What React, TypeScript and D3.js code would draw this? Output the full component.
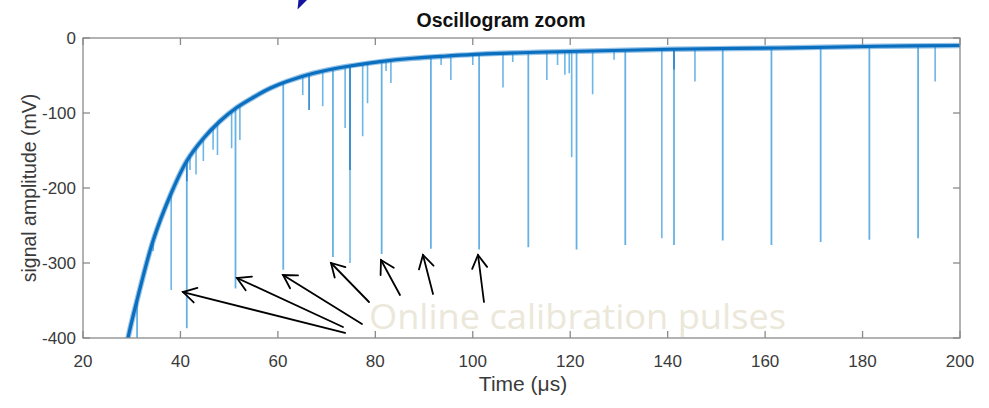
import React from "react";
import * as d3 from "d3";

// Baseline of the oscillogram (time in µs, amplitude in mV)
const curveT = [28.6, 29.3, 31, 34.4, 37.9, 41.3, 44.7, 48.1, 51.5, 55, 58.4, 61.8, 67.3, 74.1, 81, 87.8, 94.7, 101.5, 113.1, 126.8, 140.5, 163, 183.6, 200];
const curveV = [-422, -398, -352, -270, -210, -164, -134, -111, -93, -79, -67, -58, -47, -38, -31.5, -27, -24, -21.5, -19, -17, -15, -13.3, -11, -10];

// Online calibration pulses: time and peak amplitude
const pulseT = [31.1, 41.3, 51.3, 61.1, 71.3, 81.3, 91.4, 101.3, 111.4, 121.3, 131.3, 141.3, 151.3, 161.3, 171.4, 181.4, 191.4];
const pulseV = [-400, -387, -334, -309, -292, -288, -281, -282, -279, -282, -276, -276, -270, -276, -272, -269, -267];

// Other detected events: time and peak amplitude
const eventT = [34.4, 38.1, 41.96, 43.2, 44.7, 46.7, 47.6, 50.5, 52.2, 65.1, 69.2, 73.8, 74.8, 77.4, 78.4, 82.2, 83.2, 93.5, 95.5, 100, 106.2, 108.2, 115.2, 117.4, 118.9, 119.8, 120.3, 124.6, 129, 138.8, 145.6, 194.9];
const eventV = [-284, -336, -176, -182, -164, -149, -156, -147, -136, -76, -91, -120, -300, -131, -87, -44, -60, -36, -56, -36, -66, -32, -56, -36, -49, -47, -159, -75, -29, -267, -58, -58];

// Strong short events
const strongT = [41.3, 66.4, 74.8, 141.3];
const strongV = [-191, -96, -176, -42];

// Annotation arrows: tail and tip in data units
const arrowTailT = [73.78, 73.36, 77.26, 78.7, 85.06, 91.84, 102.3];
const arrowTailV = [-393.3, -385.3, -381.3, -352, -342.7, -341.3, -352];
const arrowTipT = [40.52, 51.61, 61.05, 70.9, 81.16, 89.78, 101.07];
const arrowTipV = [-338.7, -320, -316, -300, -296, -289.3, -289.3];

const xTicks = [20, 40, 60, 80, 100, 120, 140, 160, 180, 200];
const yTicks = [0, -100, -200, -300, -400];

const W = 989;
const H = 408;
const left = 83;
const right = 960;
const top = 38;
const bottom = 338;

export default function App() {
  const x = d3.scaleLinear().domain([20, 200]).range([left, right]);
  const y = d3.scaleLinear().domain([-400, 0]).range([bottom, top]);
  const baseline = d3.scaleLinear().domain(curveT).range(curveV);

  const pts: [number, number][] = curveT.map((t, i) => [t, curveV[i]]);
  const line = d3
    .line<[number, number]>()
    .x((d) => x(d[0]))
    .y((d) => y(d[1]))
    .curve(d3.curveCatmullRom.alpha(0.5));
  const path = line(pts) || "";

  const tickLen = 7;
  const axisColor = "#8a8a8a";
  const textColor = "#3a3a3a";
  const font = "Arial, 'Liberation Sans', sans-serif";

  const spike = (t: number, v: number, key: string, color: string, w: number) => (
    <line key={key} x1={x(t)} x2={x(t)} y1={y(baseline(t))} y2={y(v)} stroke={color} strokeWidth={w} />
  );

  const arrows = arrowTipT.map((t, i) => {
    const x1 = x(arrowTailT[i]);
    const y1 = y(arrowTailV[i]);
    const x2 = x(t);
    const y2 = y(arrowTipV[i]);
    const ang = Math.atan2(y1 - y2, x1 - x2);
    const len = 15;
    const spread = (30 * Math.PI) / 180;
    const a1x = x2 + len * Math.cos(ang + spread);
    const a1y = y2 + len * Math.sin(ang + spread);
    const a2x = x2 + len * Math.cos(ang - spread);
    const a2y = y2 + len * Math.sin(ang - spread);
    return (
      <g key={"arrow" + i} stroke="#000" strokeWidth={1.8} fill="none" strokeLinecap="round">
        <line x1={x1} y1={y1} x2={x2} y2={y2} />
        <polyline points={`${a1x},${a1y} ${x2},${y2} ${a2x},${a2y}`} />
      </g>
    );
  });

  return (
    <svg
      width={W}
      height={H}
      style={{ position: "absolute", left: 0, top: 0, background: "#fff" }}
      fontFamily={font}
    >
      <defs>
        <clipPath id="plotClip">
          <rect x={left} y={top} width={right - left} height={bottom - top} />
        </clipPath>
      </defs>

      {/* arrow head fragment from a neighbouring panel */}
      <polygon points="297.5,9.5 298.5,0 307,0" fill="#1414a0" />

      <text x={501} y={26.5} textAnchor="middle" fontSize={19.5} fontWeight="bold" fill="#111">
        Oscillogram zoom
      </text>

      <g clipPath="url(#plotClip)">
        {eventT.map((t, i) => spike(t, eventV[i], "e" + i, "#6db6e8", 1.6))}
        {pulseT.map((t, i) => spike(t, pulseV[i], "p" + i, "#66b1e4", 1.8))}
        {strongT.map((t, i) => spike(t, strongV[i], "s" + i, "#2a84cc", 1.6))}
        <path d={path} fill="none" stroke="#2b86d0" strokeOpacity={0.5} strokeWidth={5.5} />
        <path d={path} fill="none" stroke="#0b6fc0" strokeWidth={3.2} />
      </g>

      {/* axes box */}
      <rect x={left} y={top} width={right - left} height={bottom - top} fill="none" stroke={axisColor} strokeWidth={1.3} />
      {xTicks.map((t) => (
        <g key={"xt" + t}>
          <line x1={x(t)} x2={x(t)} y1={bottom} y2={bottom - tickLen} stroke={axisColor} strokeWidth={1.3} />
          <line x1={x(t)} x2={x(t)} y1={top} y2={top + tickLen} stroke={axisColor} strokeWidth={1.3} />
          <text x={x(t)} y={367} textAnchor="middle" fontSize={17} fill={textColor}>
            {t}
          </text>
        </g>
      ))}
      {yTicks.map((v) => (
        <g key={"yt" + v}>
          <line x1={left} x2={left + tickLen} y1={y(v)} y2={y(v)} stroke={axisColor} strokeWidth={1.3} />
          <line x1={right} x2={right - tickLen} y1={y(v)} y2={y(v)} stroke={axisColor} strokeWidth={1.3} />
          <text x={76} y={y(v)} dy="0.35em" textAnchor="end" fontSize={17} fill={textColor}>
            {v}
          </text>
        </g>
      ))}

      <text x={523} y={391} textAnchor="middle" fontSize={21} fill={textColor}>
        Time (μs)
      </text>
      <text
        transform={`translate(36, ${(top + bottom) / 2}) rotate(-90)`}
        textAnchor="middle"
        fontSize={19.5}
        fill={textColor}
      >
        signal amplitude (mV)
      </text>

      {arrows}

      <text
        x={369}
        y={328.5}
        fontFamily="'Open Sans', sans-serif"
        fontSize={35.5}
        fill="#ebe7d9"
        textLength={417}
        lengthAdjust="spacingAndGlyphs"
      >
        Online calibration pulses
      </text>
    </svg>
  );
}
